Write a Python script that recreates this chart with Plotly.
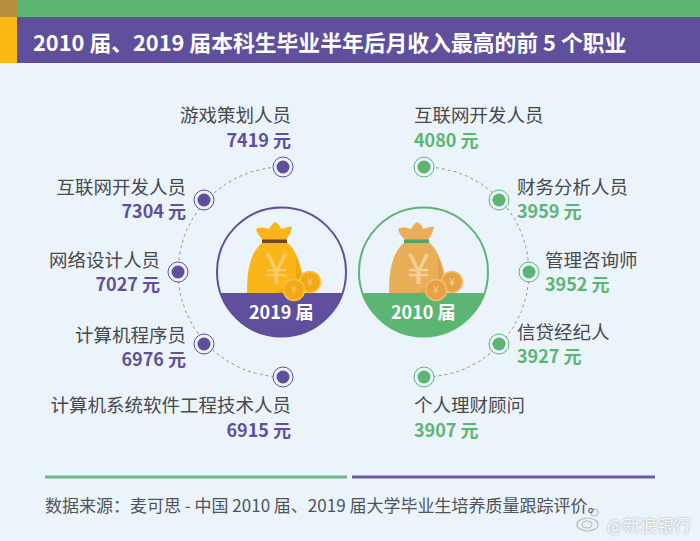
"""Top five graduate jobs by monthly income, 2010 and 2019 cohorts."""

import numpy as np
import plotly.graph_objects as go

TITLE = "2010 届、2019 届本科生毕业半年后月收入最高的前 5 个职业"
SOURCE = "数据来源：麦可思 - 中国 2010 届、2019 届大学毕业生培养质量跟踪评价。"
WATERMARK = "@新浪银行"

jobs_2019 = ["游戏策划人员", "互联网开发人员", "网络设计人员", "计算机程序员",
             "计算机系统软件工程技术人员"]
income_2019 = [7419, 7304, 7027, 6976, 6915]
jobs_2010 = ["互联网开发人员", "财务分析人员", "管理咨询师", "信贷经纪人",
             "个人理财顾问"]
income_2010 = [4080, 3959, 3952, 3927, 3907]

FONT = "Noto Sans CJK SC"
PURPLE = "#5f4f9c"
GREEN = "#5cb572"
BACKGROUND = "#ebf3fb"

# layout of the picture, in pixels
RING_Y = 272
RING_R = 105
DOT_DY = [105, 72, 0, -72, -105]
LEFT_DOT_DX = [0, 79, 105, 79, 0]
RIGHT_DOT_DX = [0, 75, 105, 75, 0]
LABEL_Y = [117, 189.5, 262, 337, 407]
VALUE_Y = [142.5, 213.5, 286.5, 361.5, 432.5]
LEFT_LABEL_X = [291, 186, 160, 186, 291]
RIGHT_LABEL_X = [414, 517, 545, 517, 414]
RIGHT_LABEL_Y = [117, 189, 262, 334, 407]
RIGHT_VALUE_Y = [142.5, 213.5, 286.5, 358.5, 432.5]


def polygon(points):
    return "M" + " L".join(f"{x:.1f},{y:.1f}" for x, y in points) + " Z"


def segment_path(cx, cy, r, chord_y):
    start = np.arcsin((chord_y - cy) / r)
    angles = np.linspace(start, np.pi - start, 60)
    return polygon(zip(cx + r * np.cos(angles), cy + r * np.sin(angles)))


def bag_shapes(dx, body, shade, tie, coin, coin_edge):
    def path(d, fill):
        return dict(type="path", path=d, fillcolor=fill, line_width=0,
                    layer="above", xref="x", yref="y")

    def coin_shape(cx, cy, r=10.5):
        return dict(type="circle", x0=cx - r, x1=cx + r, y0=cy - r, y1=cy + r,
                    fillcolor=coin, line=dict(color=coin_edge, width=1.5),
                    layer="above", xref="x", yref="y")

    return [
        path(f"M{dx+247},293 C{dx+247},270 {dx+250},252 {dx+263},242 "
             f"L{dx+287},242 C{dx+298},252 {dx+303},270 {dx+305},293 Z", body),
        path(f"M{dx+305},293 C{dx+303},278 {dx+300},265 {dx+296},258 "
             f"L{dx+296},280 L{dx+275},293 Z", shade),
        path(f"M{dx+256},229 C{dx+262},226 {dx+266},228 {dx+269},229 "
             f"C{dx+271},226 {dx+273},223 {dx+275},222 C{dx+278},223 {dx+280},226 {dx+281},229 "
             f"C{dx+285},228 {dx+289},226 {dx+292},227 C{dx+291},233 {dx+288},237 {dx+286},240 "
             f"L{dx+263},240 C{dx+260},237 {dx+257},233 {dx+256},229 Z", body),
        path(f"M{dx+262},239.5 L{dx+287},239.5 L{dx+287},243 L{dx+262},243 Z", tie),
        coin_shape(dx + 310, 282),
        coin_shape(dx + 294, 290),
    ]


def ring_traces(cx, side, color, dot_dx, labels, values, label_x, label_y, value_y):
    arc = np.linspace(-np.pi / 2, np.pi / 2, 120)
    dot_x = cx + side * np.array(dot_dx)
    dot_y = RING_Y - np.array(DOT_DY)
    position = "middle left" if side < 0 else "middle right"
    return [
        go.Scatter(x=cx + side * RING_R * np.cos(arc),
                   y=RING_Y + RING_R * np.sin(arc), mode="lines",
                   line=dict(color="#8f98a3", width=1, dash="3px,3px")),
        go.Scatter(x=dot_x, y=dot_y, mode="markers",
                   marker=dict(size=20, color=BACKGROUND,
                               line=dict(color=color, width=1))),
        go.Scatter(x=dot_x, y=dot_y, mode="markers",
                   marker=dict(size=13, color=color)),
        go.Scatter(x=label_x, y=label_y, mode="text", text=labels,
                   textposition=position,
                   textfont=dict(size=18.5, color="#47494d")),
        go.Scatter(x=label_x, y=value_y, mode="text",
                   text=[f"<b>{v} 元</b>" for v in values],
                   textposition=position,
                   textfont=dict(size=18, color=color)),
    ]


fig = go.Figure()
for trace in ring_traces(283, -1, PURPLE, LEFT_DOT_DX, jobs_2019, income_2019,
                         LEFT_LABEL_X, LABEL_Y, VALUE_Y):
    fig.add_trace(trace)
for trace in ring_traces(424, 1, GREEN, RIGHT_DOT_DX, jobs_2010, income_2010,
                         RIGHT_LABEL_X, RIGHT_LABEL_Y, RIGHT_VALUE_Y):
    fig.add_trace(trace)


def rect(x0, y0, x1, y1, color):
    return dict(type="rect", x0=x0, y0=y0, x1=x1, y1=y1, fillcolor=color,
                line_width=0, layer="below", xref="x", yref="y")


def outline(x0, y0, x1, y1):
    return dict(type="circle", x0=x0, y0=y0, x1=x1, y1=y1,
                line=dict(color="#b4bac2", width=1.2), layer="above",
                xref="x", yref="y")


shapes = [
    rect(17, 0, 700, 17, GREEN),
    rect(0, 0, 17, 17, "#b98f3e"),
    rect(0, 17, 17, 63, "#fdb813"),
    rect(17, 17, 700, 63, PURPLE),
    rect(45, 475.5, 347, 478.5, "#6dbb85"),
    rect(352, 475.5, 655, 478.5, "#6a5ba3"),
    dict(type="path", path=segment_path(281.5, 272, 64.5, 293), fillcolor=PURPLE,
         line_width=0, layer="below", xref="x", yref="y"),
    dict(type="path", path=segment_path(423.5, 272, 64.5, 293), fillcolor=GREEN,
         line_width=0, layer="below", xref="x", yref="y"),
    dict(type="circle", x0=217, x1=346, y0=207.5, y1=336.5, line=dict(color=PURPLE, width=2),
         layer="below", xref="x", yref="y"),
    dict(type="circle", x0=359, x1=488, y0=207.5, y1=336.5, line=dict(color=GREEN, width=2),
         layer="below", xref="x", yref="y"),
    # weibo logo next to the watermark
    outline(577, 518, 598, 531),
    outline(582, 521, 592, 528),
    outline(591, 509, 598, 516),
]
shapes += bag_shapes(0, "#fab51b", "#f0a60f", "#6b4a2c", "#f3a81a", "#fbc23c")
shapes += bag_shapes(142, "#eaae58", "#e3a04a", "#4fa561", "#e6a245", "#f2bf70")


def note(x, y, text, size, color, anchor="center", bold=False, **font):
    return dict(x=x, y=y, xref="x", yref="y", showarrow=False, xanchor=anchor,
                yanchor="middle", text=f"<b>{text}</b>" if bold else text,
                font=dict(size=size, color=color, family=FONT, **font))


annotations = [
    note(31, 41, TITLE, 21.8, "white", anchor="left", bold=True),
    note(43, 504, SOURCE, 17, "#505359", anchor="left"),
    note(649, 524, WATERMARK, 17, "rgba(255,255,255,0.9)",
         shadow="0px 0px 2px #8a8f96"),
    note(281, 311, "2019 届", 18, "white", bold=True),
    note(423, 311, "2010 届", 18, "white", bold=True),
    note(276, 265, "¥", 42, "#f9ce68"),
    note(418, 265, "¥", 42, "#f4d29a"),
    note(294, 288, "¥", 10, "#f9ce68"),
    note(310, 281, "¥", 11, "#f9ce68"),
    note(436, 288, "¥", 10, "#f4d29a"),
    note(452, 281, "¥", 11, "#f4d29a"),
]

fig.update_layout(
    width=700, height=541, margin=dict(l=0, r=0, t=0, b=0),
    showlegend=False, paper_bgcolor=BACKGROUND, plot_bgcolor=BACKGROUND,
    font=dict(family=FONT), shapes=shapes, annotations=annotations,
    xaxis=dict(range=[0, 700], visible=False, fixedrange=True),
    yaxis=dict(range=[541, 0], visible=False, fixedrange=True),
)
# the page's default body margin would push the picture 8px off
fig.write_html("out.html", config=dict(displayModeBar=False),
               post_script="document.body.style.margin = '0';")
